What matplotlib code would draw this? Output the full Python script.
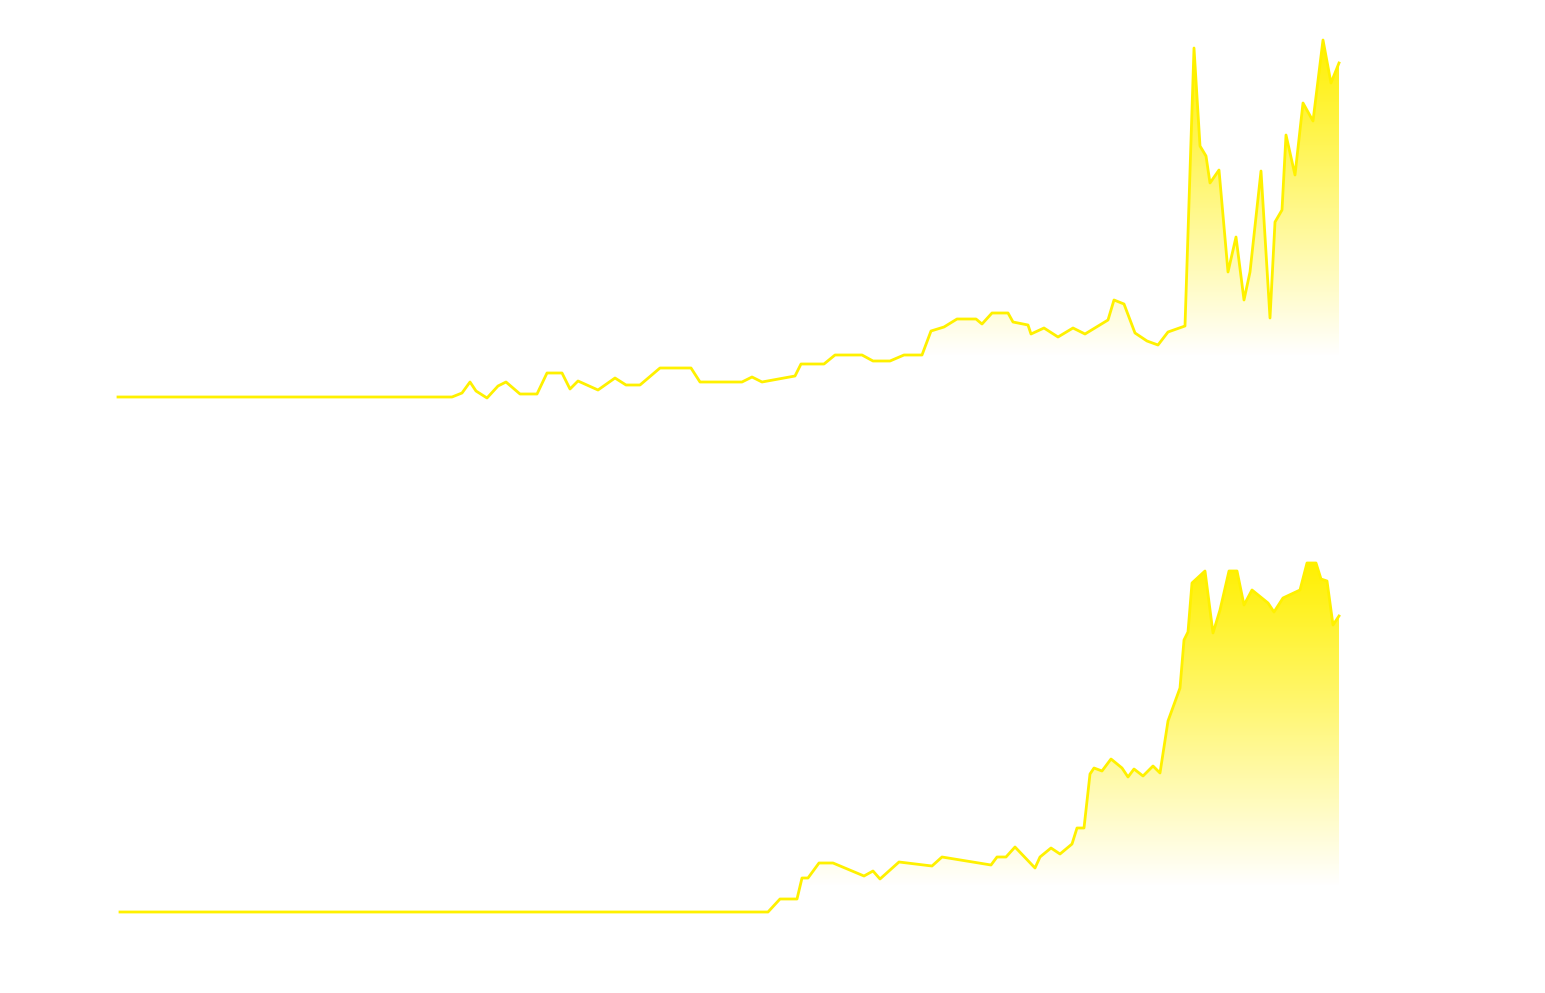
import numpy as np
import matplotlib
matplotlib.use("Agg")
import matplotlib.pyplot as plt
from matplotlib.patches import Polygon

top_x = [0,334,344,352,358,369,380,388,402,419,429,444,452,460,480,497,508,522,542,573,582,624,634,644,677,683,706,717,744,755,772,786,804,813,826,839,858,864,874,890,895,910,913,926,940,955,967,990,996,1006,1017,1029,1040,1050,1067,1076,1082,1088,1092,1101,1110,1118,1126,1132,1143,1152,1157,1164,1168,1177,1185,1195,1205,1213,1221]
top_y = [0,0,4,15,6,-1,11,15,3,3,24,24,8,16,7,19,12,12,29,29,15,15,20,15,21,33,33,42,42,36,36,42,42,66,70,78,78,73,84,84,75,72,63,69,60,69,63,77,97,93,64,56,52,65,71,349,251,241,214,227,125,160,97,125,226,79,175,187,262,222,294,276,357,314,334]
bot_x = [0,648,660,677,682,688,699,713,744,753,760,779,812,822,871,877,886,895,915,920,931,940,952,957,964,970,974,982,991,1002,1008,1014,1023,1033,1040,1048,1060,1064,1068,1072,1085,1093,1100,1109,1117,1124,1132,1148,1154,1163,1180,1187,1196,1201,1207,1213,1219]
bot_y = [0,0,13,13,34,34,49,49,36,41,33,50,46,55,47,55,55,65,44,55,64,58,68,84,84,138,144,141,153,144,135,143,136,146,139,191,224,272,280,329,341,279,302,341,341,307,322,309,300,314,322,349,349,333,331,287,296]

YEL = (1.0, 0.945, 0.0)
fig = plt.figure(figsize=(15.45, 9.93), dpi=100)

def panel(xs, ys, rect, xmax, ymax, fade0):
    ax = fig.add_axes(rect)
    ax.set_xlim(0, xmax); ax.set_ylim(0, ymax)
    ax.axis("off")
    verts = [(xs[0], 0)] + list(zip(xs, ys)) + [(xs[-1], 0)]
    poly = Polygon(verts, closed=True, facecolor="none", edgecolor="none")
    ax.add_patch(poly)
    n = 400
    yy = np.linspace(0, ymax, n)
    a = np.clip((yy - fade0) / (ymax - fade0), 0, 1)
    img = np.zeros((n, 2, 4))
    img[..., 0], img[..., 1], img[..., 2] = YEL
    img[..., 3] = a[:, None]
    im = ax.imshow(img, extent=[0, xmax, 0, ymax], origin="lower", aspect="auto", zorder=1)
    im.set_clip_path(poly)
    ax.plot(xs, ys, color=YEL, lw=2.0, zorder=2, clip_on=False)

W, H = 1545, 993
panel(top_x, top_y, [118/W, (H-397)/H, 1221/W, 357/H], 1221, 357, 40)
panel(bot_x, bot_y, [120/W, (H-912)/H, 1219/W, 349/H], 1219, 349, 25)
fig.savefig("out.png", dpi=100, facecolor="white")
